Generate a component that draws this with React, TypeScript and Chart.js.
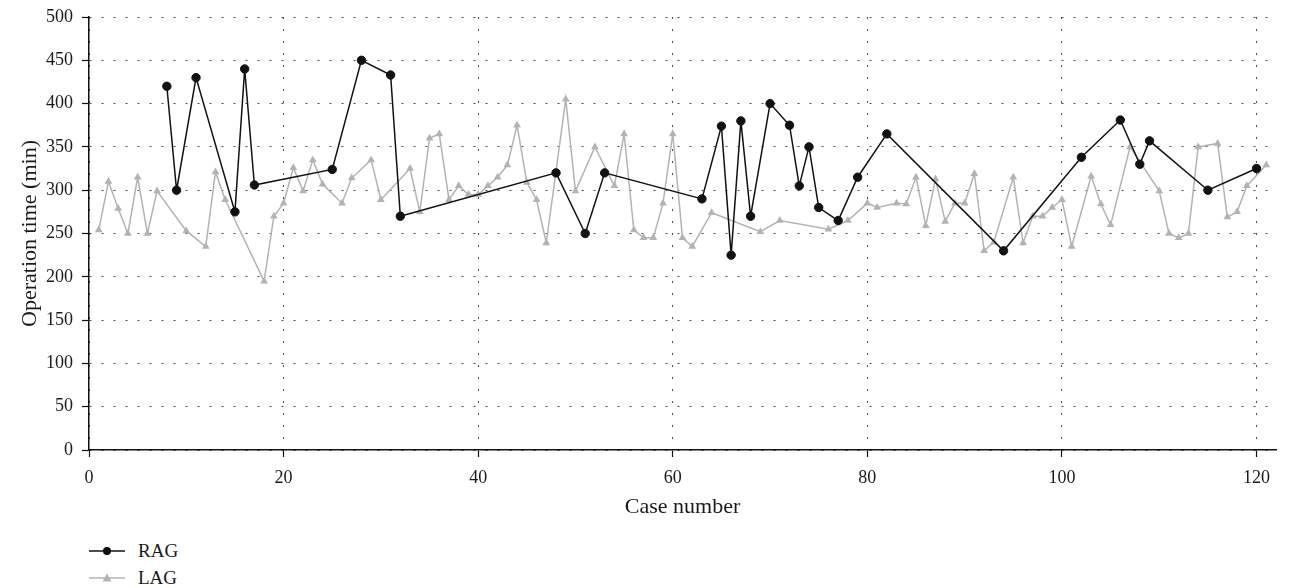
import { useEffect, useRef } from "react";
import { Chart, registerables } from "chart.js";

Chart.register(...registerables);

const seriesNames = ["RAG", "LAG"];
const xTitle = "Case number";
const yTitle = "Operation time (min)";

const ragCases = [8, 9, 11, 15, 16, 17, 25, 28, 31, 32, 48, 51, 53, 63, 65, 66, 67, 68, 70, 72, 73, 74, 75, 77, 79, 82, 94, 102, 106, 108, 109, 115, 120];
const ragTimes = [420, 300, 430, 275, 440, 306, 324, 450, 433, 270, 320, 250, 320, 290, 374, 225, 380, 270, 400, 375, 305, 350, 280, 265, 315, 365, 230, 338, 381, 330, 357, 300, 325];

const lagCases = [1, 2, 3, 4, 5, 6, 7, 10, 12, 13, 14, 18, 19, 20, 21, 22, 23, 24, 26, 27, 29, 30, 33, 34, 35, 36, 37, 38, 39, 40, 41, 42, 43, 44, 45, 46, 47, 49, 50, 52, 54, 55, 56, 57, 58, 59, 60, 61, 62, 64, 69, 71, 76, 78, 80, 81, 83, 84, 85, 86, 87, 88, 89, 90, 91, 92, 93, 95, 96, 97, 98, 99, 100, 101, 103, 104, 105, 107, 110, 111, 112, 113, 114, 116, 117, 118, 119, 121];
const lagTimes = [254, 310, 279, 250, 315, 250, 299, 253, 235, 321, 289, 195, 270, 285, 326, 299, 335, 307, 285, 314, 335, 289, 325, 275, 360, 365, 289, 305, 295, 295, 305, 315, 329, 375, 309, 289, 239, 405, 299, 350, 305, 365, 254, 245, 245, 285, 365, 245, 235, 274, 252, 265, 255, 265, 285, 280, 285, 284, 315, 259, 313, 264, 285, 285, 319, 230, 240, 315, 239, 270, 270, 280, 289, 235, 316, 284, 260, 350, 299, 250, 245, 250, 350, 354, 269, 275, 305, 329];

const xTicks = [0, 20, 40, 60, 80, 100, 120];
const yTicks = [0, 50, 100, 150, 200, 250, 300, 350, 400, 450, 500];

const RAG_COLOR = "#111111";
const LAG_COLOR = "#b3b3b3";
const FONT = "'Liberation Serif', 'Times New Roman', serif";

export default function App() {
  const ref = useRef<HTMLCanvasElement>(null);

  useEffect(() => {
    if (!ref.current) return;
    const gridCommon = {
      color: "#4d4d4d",
      lineWidth: 1,
      tickColor: "#111111",
      tickWidth: 1.2,
      tickLength: 7,
    };
    const chart = new Chart(ref.current, {
      type: "line",
      data: {
        datasets: [
          {
            label: seriesNames[0],
            data: ragCases.map((x, i) => ({ x, y: ragTimes[i] })),
            borderColor: RAG_COLOR,
            backgroundColor: RAG_COLOR,
            pointBackgroundColor: RAG_COLOR,
            pointBorderColor: RAG_COLOR,
            pointStyle: "circle",
            pointRadius: 4.2,
            pointBorderWidth: 1,
            borderWidth: 1.5,
            tension: 0,
          },
          {
            label: seriesNames[1],
            data: lagCases.map((x, i) => ({ x, y: lagTimes[i] })),
            borderColor: LAG_COLOR,
            backgroundColor: LAG_COLOR,
            pointBackgroundColor: LAG_COLOR,
            pointBorderColor: LAG_COLOR,
            pointStyle: "triangle",
            pointRadius: 4.5,
            pointBorderWidth: 0,
            borderWidth: 1.5,
            tension: 0,
          },
        ],
      },
      options: {
        animation: false,
        responsive: false,
        maintainAspectRatio: false,
        layout: { padding: { top: 0, right: 24, left: 0, bottom: 0 } },
        plugins: { legend: { display: false }, tooltip: { enabled: false } },
        scales: {
          x: {
            type: "linear",
            min: 0,
            max: 122,
            afterBuildTicks: (s: any) => {
              s.ticks = xTicks.map((v) => ({ value: v }));
            },
            afterFit: (s: any) => {
              s.height = 78;
            },
            grid: gridCommon,
            border: { color: "#111111", width: 1.5, dash: [2, 10] },
            ticks: {
              padding: 10,
              color: "#1a1a1a",
              font: { family: FONT, size: 18 },
            },
            title: {
              display: true,
              text: xTitle,
              color: "#1a1a1a",
              font: { family: FONT, size: 22 },
              padding: { top: 0, bottom: 8 },
            },
          },
          y: {
            type: "linear",
            min: 0,
            max: 500,
            afterBuildTicks: (s: any) => {
              s.ticks = yTicks.map((v) => ({ value: v }));
            },
            afterFit: (s: any) => {
              s.width = 81;
              s.paddingTop = 9;
              s.paddingBottom = 0;
            },
            grid: gridCommon,
            border: { color: "#111111", width: 1.5, dash: [2, 10] },
            ticks: {
              padding: 9,
              color: "#1a1a1a",
              font: { family: FONT, size: 18, lineHeight: 1 },
            },
            title: {
              display: true,
              text: yTitle,
              color: "#1a1a1a",
              font: { family: FONT, size: 22 },
              padding: { top: 9, bottom: 0 },
            },
          },
        },
      },
    } as any);
    return () => chart.destroy();
  }, []);

  const rowStyle: React.CSSProperties = {
    display: "flex",
    alignItems: "center",
    height: 27,
  };
  const textStyle: React.CSSProperties = {
    marginLeft: 13,
    fontFamily: FONT,
    fontSize: 19,
    color: "#1a1a1a",
    lineHeight: "27px",
  };

  return (
    <div style={{ position: "relative", width: 1292, height: 580 }}>
      <canvas ref={ref} width={1292} height={520} style={{ display: "block" }} />
      <div style={{ position: "absolute", left: 81, top: 529 }}>
        <div style={rowStyle}>
          <svg width={36} height={12}>
            <line x1={0} y1={6} x2={36} y2={6} stroke={RAG_COLOR} strokeWidth={1.5} />
            <circle cx={18} cy={6} r={4} fill={RAG_COLOR} />
          </svg>
          <span style={textStyle}>{seriesNames[0]}</span>
        </div>
        <div style={rowStyle}>
          <svg width={36} height={12}>
            <line x1={0} y1={6} x2={36} y2={6} stroke={LAG_COLOR} strokeWidth={1.5} />
            <polygon points="18,1.5 22.5,9.5 13.5,9.5" fill={LAG_COLOR} />
          </svg>
          <span style={textStyle}>{seriesNames[1]}</span>
        </div>
      </div>
    </div>
  );
}
